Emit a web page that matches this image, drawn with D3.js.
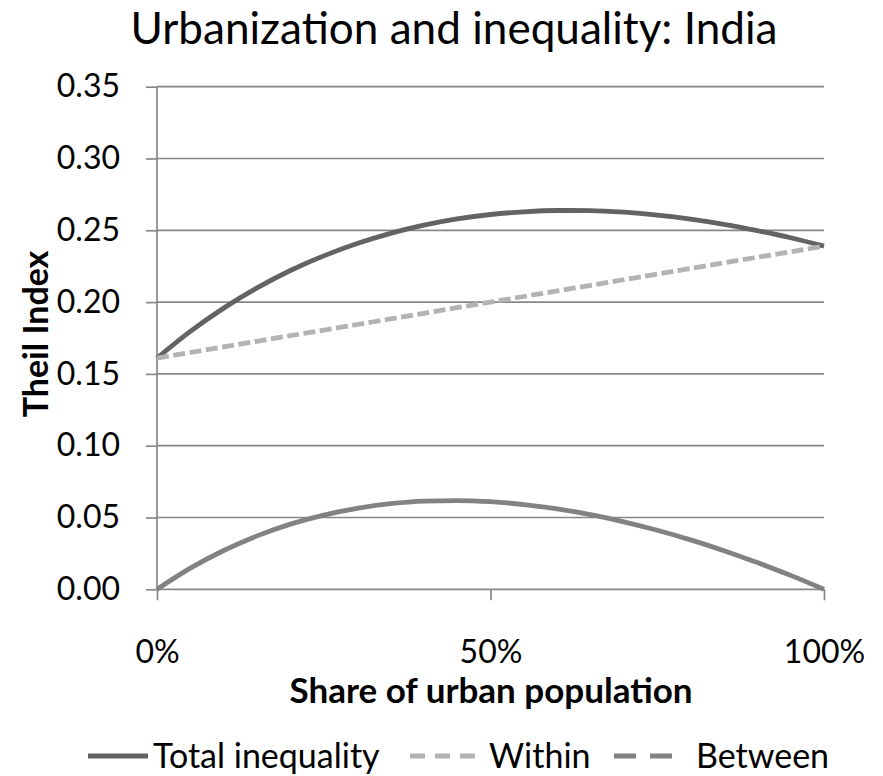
<!DOCTYPE html>
<html>
<head>
<meta charset="utf-8">
<script src="https://cdn.jsdelivr.net/npm/d3@7"></script>
<style>
  html, body { margin: 0; padding: 0; background: #fff; }
  svg { display: block; }
  text { font-family: Lato, "Open Sans", sans-serif; fill: #000; }
</style>
</head>
<body>
<svg id="chart" width="883" height="776"></svg>
<script>
// Share of urban population (x) and Theil index components (y)
const shareUrban = [0.00, 0.05, 0.10, 0.15, 0.20, 0.25, 0.30, 0.35, 0.40, 0.45, 0.50,
                    0.55, 0.60, 0.65, 0.70, 0.75, 0.80, 0.85, 0.90, 0.95, 1.00];
const totalIneq = [0.1610, 0.1796, 0.1958, 0.2099, 0.2220, 0.2322, 0.2408, 0.2479, 0.2536, 0.2579, 0.2610,
                   0.2629, 0.2638, 0.2637, 0.2626, 0.2606, 0.2578, 0.2542, 0.2498, 0.2448, 0.2390];
const withinIneq = [0.1610, 0.1649, 0.1688, 0.1727, 0.1766, 0.1805, 0.1844, 0.1883, 0.1922, 0.1961, 0.2000,
                    0.2039, 0.2078, 0.2117, 0.2156, 0.2195, 0.2234, 0.2273, 0.2312, 0.2351, 0.2390];
const betweenIneq = [0.0000, 0.0147, 0.0270, 0.0372, 0.0454, 0.0517, 0.0564, 0.0596, 0.0614, 0.0618, 0.0610,
                     0.0590, 0.0560, 0.0520, 0.0470, 0.0411, 0.0344, 0.0269, 0.0186, 0.0097, 0.0000];
const yTicks = [0, 0.05, 0.10, 0.15, 0.20, 0.25, 0.30, 0.35];
const xTicks = [0, 0.5, 1];
const seriesNames = ["Total inequality", "Within", "Between"];

const titleText = "Urbanization and inequality: India";
const xTitle = "Share of urban population";
const yTitle = "Theil Index";

(function draw() {
  const svg = d3.select("#chart");
  const plotLeft = 157, plotRight = 824, plotTop = 86.7, plotBottom = 589.3;

  const x = d3.scaleLinear().domain([0, 1]).range([plotLeft, plotRight]);
  const y = d3.scaleLinear().domain([0, 0.35]).range([plotBottom, plotTop]);

  const gridColor = "#878787";
  const gridWidth = 1.7;

  // Value axis: labels plus short outward ticks
  const yAxis = d3.axisLeft(y)
    .tickValues(yTicks)
    .tickSize(11)
    .tickPadding(26)
    .tickFormat(d3.format(".2f"));
  const gy = svg.append("g").attr("transform", `translate(${plotLeft},0)`).call(yAxis);
  gy.select(".domain").remove();
  gy.selectAll(".tick line").attr("stroke", gridColor).attr("stroke-width", gridWidth);
  gy.selectAll(".tick text")
    .attr("font-size", 32)
    .attr("font-family", "Lato, sans-serif")
    .attr("fill", "#000");

  // Horizontal gridlines
  svg.append("g").selectAll("line.grid")
    .data(yTicks)
    .join("line")
    .attr("class", "grid")
    .attr("x1", plotLeft).attr("x2", plotRight)
    .attr("y1", d => y(d)).attr("y2", d => y(d))
    .attr("stroke", gridColor).attr("stroke-width", gridWidth);

  // Vertical axis line
  svg.append("line")
    .attr("x1", plotLeft).attr("x2", plotLeft)
    .attr("y1", plotTop).attr("y2", plotBottom)
    .attr("stroke", gridColor).attr("stroke-width", gridWidth);

  // Category axis with downward ticks
  const xAxis = d3.axisBottom(x)
    .tickValues(xTicks)
    .tickSize(11)
    .tickPadding(40)
    .tickFormat(d3.format(".0%"));
  const gx = svg.append("g").attr("transform", `translate(0,${plotBottom})`).call(xAxis);
  gx.select(".domain").remove();
  gx.selectAll(".tick line").attr("stroke", gridColor).attr("stroke-width", gridWidth);
  gx.selectAll(".tick text")
    .attr("font-size", 32)
    .attr("font-family", "Lato, sans-serif")
    .attr("fill", "#000");

  // Series lines
  const rows = shareUrban.map((s, i) => ({ s, total: totalIneq[i], within: withinIneq[i], between: betweenIneq[i] }));
  const lineFor = key => d3.line().x(d => x(d.s)).y(d => y(d[key])).curve(d3.curveMonotoneX);

  const styles = [
    { key: "total",   color: "#636363", dash: null,     legendDash: null },
    { key: "within",  color: "#b3b3b3", dash: "12,4.5", legendDash: "15,10" },
    { key: "between", color: "#828282", dash: null,     legendDash: "22,14" }
  ];

  styles.forEach(st => {
    svg.append("path")
      .datum(rows)
      .attr("d", lineFor(st.key))
      .attr("fill", "none")
      .attr("stroke", st.color)
      .attr("stroke-width", 4.8)
      .attr("stroke-dasharray", st.dash);
  });

  // Title
  svg.append("text")
    .attr("x", 454).attr("y", 44)
    .attr("text-anchor", "middle")
    .attr("font-size", 44)
    .attr("textLength", 647)
    .attr("lengthAdjust", "spacingAndGlyphs")
    .text(titleText);

  // Axis titles
  svg.append("text")
    .attr("x", 491).attr("y", 703)
    .attr("text-anchor", "middle")
    .attr("font-size", 35)
    .attr("font-weight", "bold")
    .text(xTitle);

  svg.append("text")
    .attr("transform", "translate(48,334) rotate(-90)")
    .attr("text-anchor", "middle")
    .attr("font-size", 34)
    .attr("font-weight", "bold")
    .text(yTitle);

  // Legend
  const legendItems = [
    { x0: 88,  x1: 148, tx: 153 },
    { x0: 410, x1: 475, tx: 489 },
    { x0: 614, x1: 672, tx: 696 }
  ];
  const legendY = 756;
  legendItems.forEach((it, i) => {
    const st = styles[i];
    svg.append("line")
      .attr("x1", it.x0).attr("x2", it.x1)
      .attr("y1", legendY).attr("y2", legendY)
      .attr("stroke", st.color)
      .attr("stroke-width", 4.8)
      .attr("stroke-dasharray", st.legendDash);
    svg.append("text")
      .attr("x", it.tx).attr("y", legendY + 12)
      .attr("font-size", 34)
      .text(seriesNames[i]);
  });
})();
</script>
</body>
</html>
